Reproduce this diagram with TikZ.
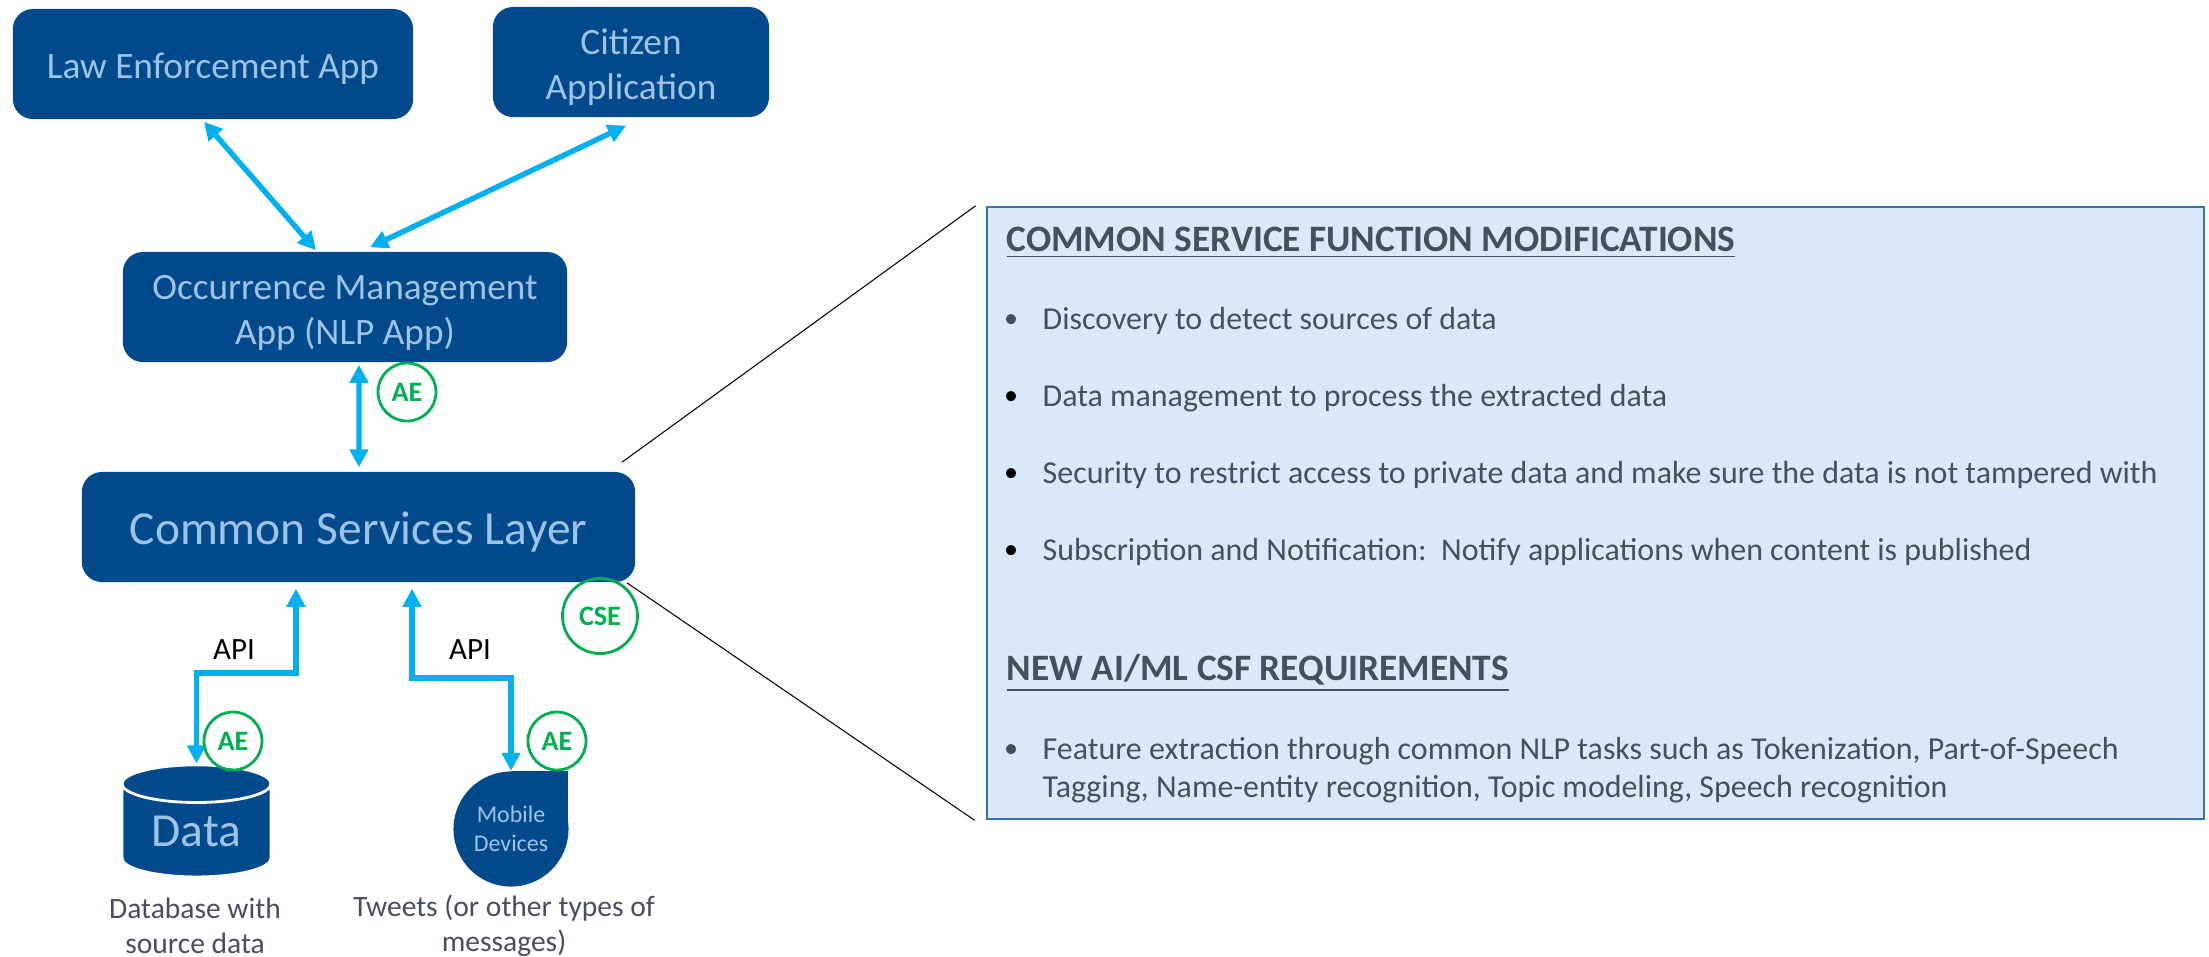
\documentclass[tikz,border=0pt]{standalone}
\usepackage{fontspec}
\setmainfont{Carlito}
\usetikzlibrary{arrows, arrows.meta, shapes.geometric}
\definecolor{boxblue}{HTML}{034A8D}
\definecolor{boxtext}{HTML}{9DC3E6}
\definecolor{flowblue}{HTML}{00B0F0}
\definecolor{aegreen}{HTML}{00B050}
\definecolor{slatetext}{HTML}{44505C}
\definecolor{panelfill}{HTML}{DAE9F7}
\definecolor{paneledge}{HTML}{2E75B6}
\newcommand{\boxlift}{\rule{0pt}{10.0pt}}
\newcommand{\biglift}{\rule{0pt}{12.3pt}}
\tikzset{
appbox/.style={fill=boxblue,text=boxtext,rounded corners=0.2cm,inner sep=0pt,align=center,font=\fontsize{10.6}{12.8}\selectfont},
flow/.style={flowblue,line width=0.054cm,>={Triangle[length=0.18cm,width=0.18cm]}},
entity/.style={circle,draw=aegreen,thick,text=aegreen,inner sep=0pt,font=\fontsize{8}{9}\selectfont\bfseries},
itemtext/.style={anchor=west,inner sep=0pt,text=slatetext,align=left,font=\fontsize{9.08}{10.8}\selectfont},
headtext/.style={anchor=west,inner sep=0pt,text=slatetext,font=\fontsize{10.6}{12}\selectfont\bfseries},
bulletdot/.style={inner sep=0pt,font=\fontsize{8}{10.8}\selectfont},
caption/.style={inner sep=0pt,text=slatetext,align=center,font=\fontsize{8.4}{10}\selectfont},
apitext/.style={inner sep=0pt,font=\fontsize{8.8}{10}\selectfont},
leader/.style={black,line width=0.3pt}
}
\begin{document}
\begin{tikzpicture}[x=0.01cm,y=-0.01cm]
\useasboundingbox (0,0) rectangle (2209,956);
\node[appbox,minimum width=4cm,minimum height=1.1cm] (law) at (213,64) {\boxlift Law Enforcement App};
\node[appbox,minimum width=2.76cm,minimum height=1.1cm] (citizen) at (631,62) {\boxlift Citizen\\Application};
\node[appbox,minimum width=4.44cm,minimum height=1.1cm] (occ) at (345,307) {\boxlift Occurrence Management\\App (NLP App)};
\node[appbox,minimum width=5.53cm,minimum height=1.1cm,font=\fontsize{13.5}{15}\selectfont] (csl) at (358.5,527) {\biglift Common Services Layer};
\node[cylinder,shape border rotate=90,shape aspect=0.42,minimum width=1.49cm,minimum height=1.12cm,inner sep=0pt,draw=white,thick,fill=boxblue,text=boxtext,font=\fontsize{13.5}{15}\selectfont] (data) at (196.5,831) {Data};
\fill[boxblue] (511,771) rectangle (568,829);
\node[circle,fill=boxblue,text=boxtext,minimum size=1.15cm,inner sep=0pt,align=center,font=\fontsize{6.8}{8.3}\selectfont] (mobile) at (511,829) {Mobile\\Devices};
\node[rectangle,draw=paneledge,line width=0.6pt,fill=panelfill,minimum width=12.17cm,minimum height=6.12cm] (panel) at (1595.5,513) {};
\draw[flow,<->] ([xshift=-0.09cm,yshift=-0.02cm]law.south) -- ([xshift=-0.29cm,yshift=0.01cm]occ.north);
\draw[flow,<->] ([xshift=-0.05cm,yshift=-0.08cm]citizen.south) -- ([xshift=0.25cm,yshift=0.04cm]occ.north);
\draw[flow,<->] ([xshift=0.14cm,yshift=-0.02cm]occ.south) -- ([xshift=0.005cm,yshift=0.04cm]csl.north);
\draw[flow,<->] ([xshift=-0.625cm,yshift=-0.06cm]csl.south) |- (data.north |- 0,673) -- (data.north);
\draw[flow,<->] ([xshift=0.535cm,yshift=-0.06cm]csl.south) |- (mobile.north |- 0,678) -- (mobile.north);
\draw[leader] ([xshift=-0.14cm,yshift=0.09cm]csl.north east) -- ([xshift=-0.1cm]panel.north west);
\draw[leader] ([xshift=-0.09cm]csl.south east) -- ([xshift=-0.11cm]panel.south west);
\node[entity,minimum size=0.58cm] (aeocc) at (407,392) {AE};
\node[entity,minimum size=0.75cm] (cse) at (600,616) {CSE};
\node[entity,minimum size=0.58cm] (aedata) at (233,741) {AE};
\node[entity,minimum size=0.58cm] (aemobile) at (557,741) {AE};
\node[apitext] (apidata) at (234,650) {API};
\node[apitext] (apimobile) at (470,650) {API};
\node[caption] (capdata) at (195,926) {Database with\\source data};
\node[caption] (capmobile) at (504,926) {Tweets (or other types of\\messages)};
\node[headtext] (headone) at (1006,243) {\underline{COMMON SERVICE FUNCTION MODIFICATIONS}};
\node[bulletdot,text=slatetext] (dotone) at (1011,321) {\textbullet};
\node[itemtext] (itemone) at (1042,321) {Discovery to detect sources of data};
\node[bulletdot] (dottwo) at (1011,398) {\textbullet};
\node[itemtext] (itemtwo) at (1042,398) {Data management to process the extracted data};
\node[bulletdot] (dotthree) at (1011,475) {\textbullet};
\node[itemtext] (itemthree) at (1042,475) {Security to restrict access to private data and make sure the data is not tampered with};
\node[bulletdot] (dotfour) at (1011,552) {\textbullet};
\node[itemtext] (itemfour) at (1042,552) {Subscription and Notification:\ \ Notify applications when content is published};
\node[headtext] (headtwo) at (1006,673) {\underline{NEW AI/ML CSF REQUIREMENTS}};
\node[bulletdot,text=slatetext] (dotfive) at (1011,751) {\textbullet};
\node[itemtext] (itemfive) at (1042,770) {Feature extraction through common NLP tasks such as Tokenization, Part-of-Speech\\Tagging, Name-entity recognition, Topic modeling, Speech recognition};
\end{tikzpicture}
\end{document}
